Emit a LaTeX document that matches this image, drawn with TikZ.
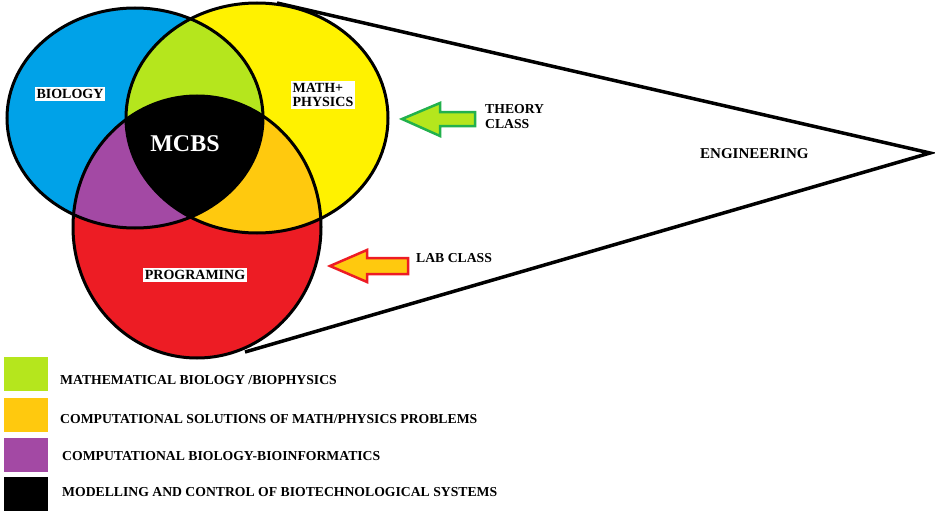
\documentclass[tikz,border=0pt]{standalone}
\usepackage{fontspec}
\setmainfont{Liberation Serif}
\begin{document}
\begin{tikzpicture}[x=1pt,y=-1pt,
  lbl/.style={fill=white,font=\bfseries\fontsize{14}{14}\selectfont,inner sep=2pt,align=left},
  txt/.style={font=\bfseries\fontsize{13.7}{15}\selectfont,anchor=west,inner sep=0pt,align=left},
  sw/.style={minimum width=44pt,minimum height=34pt,inner sep=0pt,anchor=north west}]
\useasboundingbox (0,0) rectangle (935,511);
\definecolor{cblue}{RGB}{0,162,232}
\definecolor{cyellow}{RGB}{255,242,0}
\definecolor{cred}{RGB}{237,28,36}
\definecolor{cgreen}{RGB}{181,230,29}
\definecolor{corange}{RGB}{255,201,14}
\definecolor{cpurple}{RGB}{163,73,164}
\definecolor{cdgreen}{RGB}{34,177,76}
\def\eB{(135,118) ellipse [x radius=128,y radius=110]}
\def\eY{(257,118) ellipse [x radius=131,y radius=115]}
\def\eR{(197,227) ellipse [x radius=124,y radius=131]}
% triangle
\coordinate (apex) at (930,153);
\coordinate (t1) at (277,3);
\coordinate (t2) at (245,352);
\draw[line width=3.5pt,line join=miter] (t1) -- (apex) -- (t2);
\fill[cblue] \eB;
\fill[cyellow] \eY;
\fill[cred] \eR;
\begin{scope}\clip \eB; \fill[cgreen] \eY; \end{scope}
\begin{scope}\clip \eY; \fill[corange] \eR; \end{scope}
\begin{scope}\clip \eB; \fill[cpurple] \eR; \end{scope}
\begin{scope}\clip \eB; \clip \eY; \fill[black] \eR; \end{scope}
\draw[line width=3pt] \eB;
\draw[line width=3pt] \eY;
\draw[line width=3pt] \eR;
\node[lbl] (bio) at (70,94) {BIOLOGY};
\node[lbl] (math) at (323,95) {MATH+\\PHYSICS};
\node[lbl] (prog) at (195,275) {PROGRAMING};
\node[font=\bfseries\fontsize{24}{26}\selectfont,text=white] (mcbs) at (185,144) {MCBS};
\node[txt] (theory) at (485,117) {THEORY\\CLASS};
\node[txt] (lab) at (416,258) {LAB CLASS};
\node[txt,font=\bfseries\fontsize{15}{16}\selectfont] (eng) at (700,154) {ENGINEERING};
% arrows
\draw[cdgreen,fill=cgreen,line width=2.5pt,line join=miter]
  (402,119) -- (440,103) -- (440,112) -- (475,112) -- (475,126) -- (440,126) -- (440,136) -- cycle;
\draw[cred,fill=corange,line width=2.5pt,line join=miter]
  (330,266) -- (367,250) -- (367,258) -- (408,258) -- (408,274) -- (367,274) -- (367,282) -- cycle;
% legend
\node[sw,fill=cgreen] (s1) at (4,357) {};
\node[sw,fill=corange] (s2) at (4,398) {};
\node[sw,fill=cpurple] (s3) at (4,438) {};
\node[sw,fill=black] (s4) at (4,477) {};
\node[txt] (l1) at (60,380) {MATHEMATICAL BIOLOGY /BIOPHYSICS};
\node[txt] (l2) at (60,419) {COMPUTATIONAL SOLUTIONS OF MATH/PHYSICS PROBLEMS};
\node[txt] (l3) at (62,456) {COMPUTATIONAL BIOLOGY-BIOINFORMATICS};
\node[txt] (l4) at (62,492) {MODELLING AND CONTROL OF BIOTECHNOLOGICAL SYSTEMS};
\end{tikzpicture}
\end{document}
